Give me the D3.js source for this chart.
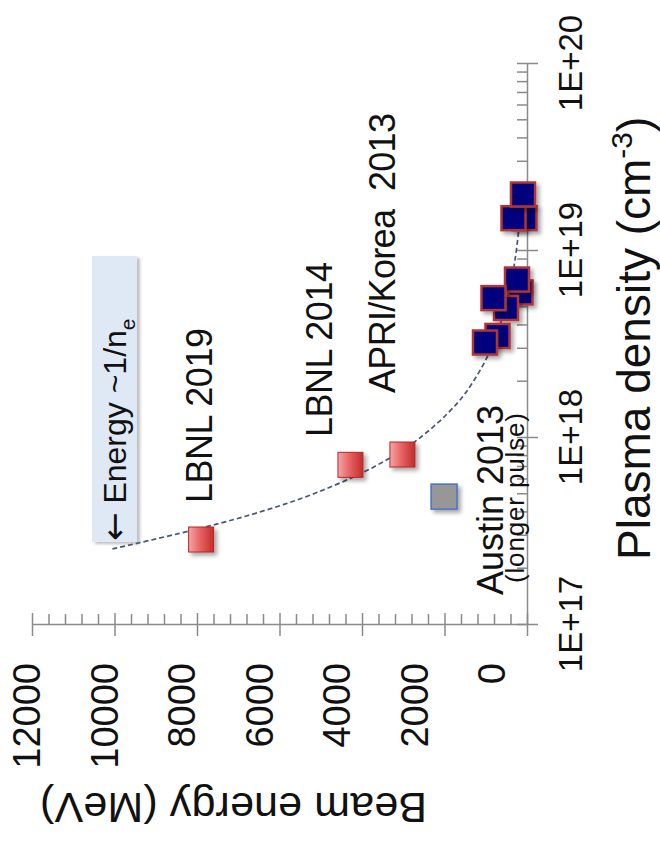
<!DOCTYPE html>
<html><head><meta charset="utf-8">
<script src="https://cdn.jsdelivr.net/npm/d3@7"></script>
<style>body{margin:0;background:#fff} svg{display:block}</style>
</head><body>
<svg id="c" width="660" height="845"></svg>
<script>
// ---------- data ----------
const energyTicks = [0, 2000, 4000, 6000, 8000, 10000, 12000];
const energyTickLabels = ["0", "2000", "4000", "6000", "8000", "10000", "12000"];
const densityTicks = [1e17, 1e18, 1e19, 1e20];
const densityTickLabels = ["1E+17", "1E+18", "1E+19", "1E+20"];

const redNames = ["LBNL 2019", "LBNL 2014", "APRI/Korea 2013"];
const redEnergy = [7900, 4280, 3020];
const redDensity = [2.83e17, 7.1e17, 8.06e17];

const grayEnergy = [2010];
const grayDensity = [4.8e17];

const blueEnergy = [158, 242, 509, 812, 715, 1018, 61, 327, 97];
const blueDensity = [5.93e18, 6.95e18, 4.9e18, 5.53e18, 3.47e18, 3.2e18, 1.48e19, 1.48e19, 1.98e19];

const trendDensity = [2.52e17, 3.3e17, 4e17, 5e17, 7e17, 1e18, 1.5e18, 2e18, 3e18, 5e18, 7e18, 1e19, 1.4e19, 1.9e19];
const trendEnergy  = [10050, 7800, 6430, 5140, 3670, 2570, 1710, 1290, 860, 515, 367, 257, 184, 135];

// ---------- setup ----------
const FONT = "'Liberation Sans', Arial, Helvetica, sans-serif";
const svg = d3.select("#c");
const axisColor = "#8a8a8a";

const xE = d3.scaleLinear().domain([0, 12000]).range([527, 32]);
const yN = d3.scaleLog().domain([1e17, 1e20]).range([624, 63]);
const labelX = d3.scaleLinear().domain([0, 12000]).range([492, 27]);

const defs = svg.append("defs");
const sh = defs.append("filter").attr("id", "shadow").attr("x", "-30%").attr("y", "-30%").attr("width", "170%").attr("height", "170%");
sh.append("feDropShadow").attr("dx", 3).attr("dy", 3).attr("stdDeviation", 2).attr("flood-color", "#000").attr("flood-opacity", 0.35);
const sh2 = defs.append("filter").attr("id", "shadow2").attr("x", "-30%").attr("y", "-30%").attr("width", "170%").attr("height", "170%");
sh2.append("feDropShadow").attr("dx", 3).attr("dy", 2).attr("stdDeviation", 1.5).attr("flood-color", "#000").attr("flood-opacity", 0.25);
const rg = defs.append("linearGradient").attr("id", "redgrad").attr("x1", 0).attr("x2", 1).attr("y1", 0).attr("y2", 0);
rg.append("stop").attr("offset", 0).attr("stop-color", "#f7a5a5");
rg.append("stop").attr("offset", 0.45).attr("stop-color", "#e86464");
rg.append("stop").attr("offset", 1).attr("stop-color", "#c42c2c");

// ---------- axes ----------
const energyMinor = d3.range(0, 12001, 400).filter(v => v % 2000 !== 0);
const gEmin = svg.append("g").attr("transform", "translate(0,624)")
  .call(d3.axisTop(xE).tickValues(energyMinor).tickSize(10).tickSizeOuter(0).tickFormat(""));
const gEmaj = svg.append("g").attr("transform", "translate(0,613)")
  .call(d3.axisBottom(xE).tickValues(energyTicks).tickSize(23).tickSizeOuter(0).tickFormat(""));
gEmaj.select(".domain").remove();

const densityMinor = [];
[17, 18, 19].forEach(k => d3.range(2, 10).forEach(m => densityMinor.push(m * Math.pow(10, k))));
const gNmin = svg.append("g").attr("transform", "translate(527,0)")
  .call(d3.axisLeft(yN).tickValues(densityMinor).tickSize(10).tickSizeOuter(0).tickFormat(""));
const gNmaj = svg.append("g").attr("transform", "translate(517,0)")
  .call(d3.axisRight(yN).tickValues(densityTicks).tickSize(21).tickSizeOuter(0).tickFormat(""));
gNmaj.select(".domain").remove();

svg.selectAll(".domain, .tick line").attr("stroke", axisColor).attr("stroke-width", 1.5);

// tick labels
svg.append("g").selectAll("text").data(energyTicks).join("text")
  .attr("transform", d => `translate(${labelX(d)},663) rotate(-90)`)
  .attr("text-anchor", "end").attr("dy", "0.35em")
  .attr("font-family", FONT).attr("font-size", 38).attr("fill", "#111")
  .text((d, i) => energyTickLabels[i]);

svg.append("g").selectAll("text").data(densityTicks).join("text")
  .attr("transform", d => `translate(582,${yN(d)}) rotate(-90)`)
  .attr("text-anchor", "middle")
  .attr("font-family", FONT).attr("font-size", 33).attr("fill", "#111")
  .text((d, i) => densityTickLabels[i]);

// axis titles
svg.append("text")
  .attr("transform", "translate(427,793) rotate(180)")
  .attr("font-family", FONT).attr("font-size", 43).attr("fill", "#111")
  .attr("textLength", 387).attr("lengthAdjust", "spacing")
  .text("Beam energy (MeV)");

const pt = svg.append("text")
  .attr("transform", "translate(650,560) rotate(-90)")
  .attr("font-family", FONT).attr("font-size", 46).attr("fill", "#111");
pt.append("tspan").text("Plasma density (cm");
pt.append("tspan").attr("font-size", 30).attr("dy", -18).text("-3");
pt.append("tspan").attr("dy", 18).text(")");

// ---------- energy ~ 1/n box ----------
svg.append("rect").attr("x", 92).attr("y", 256).attr("width", 45).attr("height", 286)
  .attr("fill", "#dfe9f6").attr("filter", "url(#shadow2)");
const bt = svg.append("text")
  .attr("transform", "translate(126,541) rotate(-90)")
  .attr("font-family", FONT).attr("font-size", 32).attr("fill", "#111");
bt.append("tspan").attr("font-family", "'DejaVu Sans', sans-serif").attr("font-size", 34).text("\u2190");
bt.append("tspan").text(" Energy ~1/n");
bt.append("tspan").attr("font-size", 21).attr("dy", 9).text("e");

// ---------- trend curve ----------
const trend = trendDensity.map((n, i) => ({n, e: trendEnergy[i]}));
svg.append("path").datum(trend)
  .attr("d", d3.line().x(d => xE(d.e)).y(d => yN(d.n)).curve(d3.curveCatmullRom))
  .attr("fill", "none").attr("stroke", "#4a5676").attr("stroke-width", 1.7)
  .attr("stroke-dasharray", "5,3");

// ---------- markers ----------
const S = 25;
svg.append("g").selectAll("rect").data(redEnergy).join("rect")
  .attr("x", (d) => xE(d) - S / 2).attr("y", (d, i) => yN(redDensity[i]) - S / 2)
  .attr("width", S).attr("height", S)
  .attr("fill", "url(#redgrad)").attr("stroke", "#b02828").attr("stroke-width", 1)
  .attr("filter", "url(#shadow)");

svg.append("g").selectAll("rect").data(grayEnergy).join("rect")
  .attr("x", (d) => xE(d) - 13).attr("y", (d, i) => yN(grayDensity[i]) - 12.5)
  .attr("width", 26).attr("height", 25)
  .attr("fill", "#979797").attr("stroke", "#4a72c6").attr("stroke-width", 1.5)
  .attr("filter", "url(#shadow)");

svg.append("g").selectAll("rect").data(blueEnergy).join("rect")
  .attr("x", (d) => xE(d) - 12).attr("y", (d, i) => yN(blueDensity[i]) - 12)
  .attr("width", 24).attr("height", 24)
  .attr("fill", "#00007f").attr("stroke", "#b03434").attr("stroke-width", 2.5)
  .attr("filter", "url(#shadow)");

// ---------- labels ----------
function label(txt, x, y, size, len) {
  const t = svg.append("text")
    .attr("transform", `translate(${x},${y}) rotate(-90)`)
    .attr("font-family", FONT).attr("font-size", size).attr("fill", "#111")
    .text(txt);
  if (len) t.attr("textLength", len).attr("lengthAdjust", "spacing");
  return t;
}
label(redNames[0], 212, 503, 36, 175);
label(redNames[1], 332, 437, 36, 175);
label("APRI/Korea  2013", 395, 393, 36, 280).attr("xml:space", "preserve");
label("Austin 2013", 503, 595, 36, 190);
label("(longer pulse)", 524, 583, 26, 170);
</script>
</body></html>
